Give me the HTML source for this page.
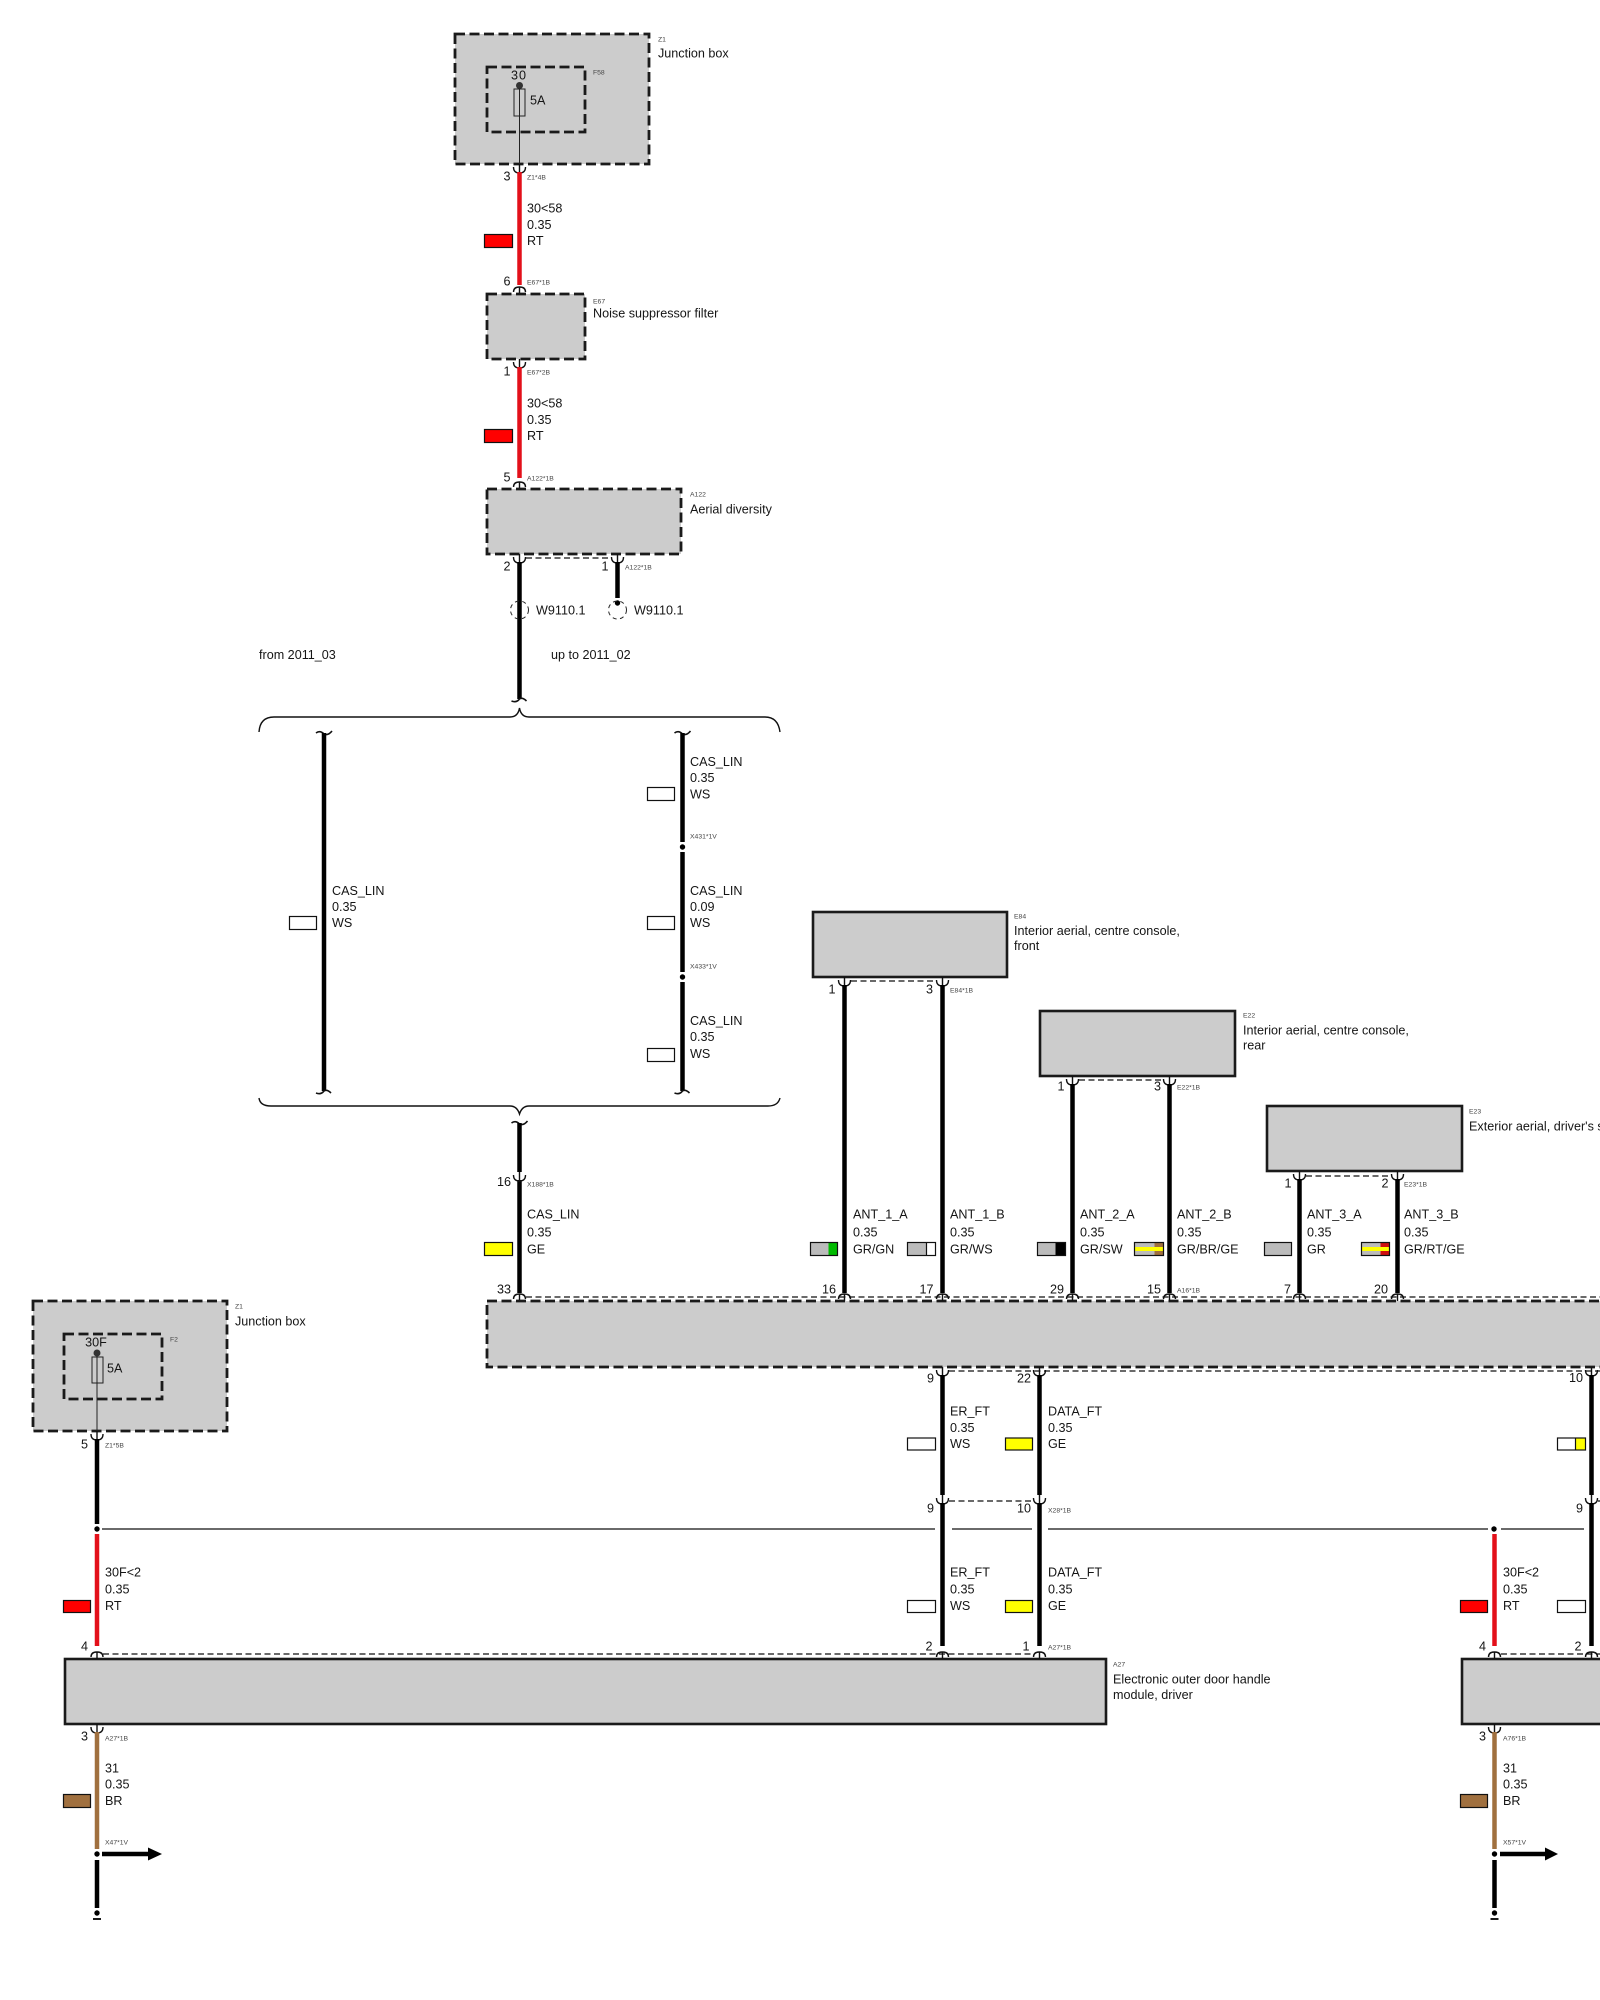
<!DOCTYPE html>
<html><head><meta charset="utf-8"><style>
html,body{margin:0;padding:0;background:#fff;width:1600px;height:2000px;overflow:hidden}
svg{display:block}
text{font-family:"Liberation Sans",sans-serif;font-size:12.6px;fill:#151515}
.s{font-size:6.8px;fill:#444}
.e{text-anchor:end}
.m{text-anchor:middle}
.bd{fill:#ccc;stroke:#1a1a1a;stroke-width:2.8;stroke-dasharray:10 4.5}
.bs{fill:#ccc;stroke:#1a1a1a;stroke-width:2.6}
.in{fill:none;stroke:#1a1a1a;stroke-width:2.8;stroke-dasharray:10 4.5}
.k{stroke:#000;stroke-width:4.5;fill:none}
.r{stroke:#e3101a;stroke-width:4.5;fill:none}
.b{stroke:#a0703f;stroke-width:4.5;fill:none}
.t{stroke:#111;stroke-width:1.4;fill:none}
.d{stroke:#111;stroke-width:1.3;fill:none;stroke-dasharray:6 3.5}
.c{stroke:#111;stroke-width:1.4;fill:none}
.sw{stroke:#111;stroke-width:1.2}
</style></head><body>
<svg width="1600" height="2000" viewBox="0 0 1600 2000" xmlns="http://www.w3.org/2000/svg">
<defs>
<path id="cd" class="c" d="M0,0V9M-6,3Q-6,9 0,9Q6,9 6,3"/>
<path id="cu" class="c" d="M0,0V-7M-6,-2Q-6,-7 0,-7Q6,-7 6,-2"/>
<path id="tt" class="c" d="M-8,0Q-4,-3 0,1Q4,3 8,-2" style="stroke-width:1.6"/>
<path id="tb" class="c" d="M-8,1Q-3,3 0,-1Q3,-3 7,1" style="stroke-width:1.6"/>
</defs>

<!-- Top Z1 -->
<rect class="bd" x="455" y="34" width="194" height="130"/>
<rect class="in" x="487" y="67" width="98" height="65"/>
<circle cx="519.5" cy="85.5" r="3.5" fill="#333"/>
<rect x="514" y="89" width="11" height="27" fill="#ccc" stroke="#222" stroke-width="1"/>
<path d="M519.5,89V168" stroke="#222" stroke-width="1"/>
<text x="519" y="79.5" class="m" letter-spacing="1">30</text>
<text x="530" y="104.500">5A</text>
<text class="s" x="658" y="41.500">Z1</text>
<text x="658" y="57.500">Junction box</text>
<text class="s" x="593" y="74.500">F58</text>

<use href="#cd" x="519.500" y="164"/>
<path class="r" d="M519.500,172V285"/>
<use href="#cu" x="519.500" y="294"/>
<text class="e" x="510.500" y="180.500">3</text>
<text class="s" x="527" y="179.500">Z1*4B</text>
<text x="527" y="212.500">30&lt;58</text>
<text x="527" y="229">0.35</text>
<text x="527" y="245">RT</text>
<rect class="sw" x="484.500" y="234.500" width="28" height="13" fill="#f00"/>
<text class="e" x="510.500" y="285.500">6</text>
<text class="s" x="527" y="284.500">E67*1B</text>

<!-- E67 -->
<rect class="bd" x="487" y="294" width="98" height="65"/>
<text class="s" x="593" y="303.500">E67</text>
<text x="593" y="317.500">Noise suppressor filter</text>
<use href="#cd" x="519.500" y="359"/>
<path class="r" d="M519.500,367V478"/>
<use href="#cu" x="519.500" y="489"/>
<text class="e" x="510.500" y="375.500">1</text>
<text class="s" x="527" y="374.500">E67*2B</text>
<text x="527" y="407.500">30&lt;58</text>
<text x="527" y="424">0.35</text>
<text x="527" y="440">RT</text>
<rect class="sw" x="484.500" y="429.500" width="28" height="13" fill="#f00"/>
<text class="e" x="510.500" y="481.500">5</text>
<text class="s" x="527" y="480.500">A122*1B</text>

<!-- A122 -->
<rect class="bd" x="487" y="489" width="194" height="65"/>
<text class="s" x="690" y="496.500">A122</text>
<text x="690" y="513.500">Aerial diversity</text>
<path class="d" d="M526,558H611"/>
<use href="#cd" x="519.500" y="554"/>
<use href="#cd" x="617.500" y="554"/>
<path class="k" d="M519.500,562V699"/>
<path class="k" d="M617.500,562V598"/>
<circle cx="617.500" cy="603" r="2.700" fill="#000"/>
<circle cx="519.500" cy="610" r="9" fill="none" stroke="#222" stroke-width="1" stroke-dasharray="4 3.500"/>
<circle cx="617.500" cy="610" r="9" fill="none" stroke="#222" stroke-width="1" stroke-dasharray="4 3.500"/>
<text class="e" x="510.500" y="570.500">2</text>
<text class="e" x="608.500" y="570.500">1</text>
<text class="s" x="625" y="569.500">A122*1B</text>
<text x="536" y="614.500">W9110.1</text>
<text x="634" y="614.500">W9110.1</text>
<text x="259" y="659">from 2011_03</text>
<text x="551" y="659">up to 2011_02</text>
<use href="#tb" x="519.500" y="700"/>

<!-- Braces -->
<path class="t" d="M259,732Q260,717 274,717H510Q518,717 519.500,708Q521,717 529,717H765Q778,717 780,732"/>
<path class="t" d="M259,1098Q260,1106 271,1106H510Q517,1106 519.500,1114Q522,1106 529,1106H768Q778,1106 780,1098"/>

<!-- CAS left -->
<use href="#tt" x="324" y="733"/>
<path class="k" d="M324,733V1091"/>
<use href="#tb" x="324" y="1092"/>
<text x="332" y="895">CAS_LIN</text>
<text x="332" y="911">0.35</text>
<text x="332" y="927">WS</text>
<rect class="sw" x="289.500" y="916.500" width="27" height="13" fill="#fff"/>

<!-- CAS right -->
<use href="#tt" x="682.500" y="733"/>
<path class="k" d="M682.500,733V842M682.500,852V972M682.500,982V1091"/>
<use href="#tb" x="682.500" y="1092"/>
<circle cx="682.500" cy="847" r="2.700" fill="#000"/>
<circle cx="682.500" cy="977" r="2.700" fill="#000"/>
<text x="690" y="766">CAS_LIN</text>
<text x="690" y="782">0.35</text>
<text x="690" y="798.500">WS</text>
<rect class="sw" x="647.500" y="787.500" width="27" height="13" fill="#fff"/>
<text class="s" x="690" y="838.500">X431*1V</text>
<text x="690" y="895">CAS_LIN</text>
<text x="690" y="911">0.09</text>
<text x="690" y="927">WS</text>
<rect class="sw" x="647.500" y="916.500" width="27" height="13" fill="#fff"/>
<text class="s" x="690" y="968.500">X433*1V</text>
<text x="690" y="1025">CAS_LIN</text>
<text x="690" y="1041">0.35</text>
<text x="690" y="1058">WS</text>
<rect class="sw" x="647.500" y="1048.500" width="27" height="13" fill="#fff"/>

<!-- CAS lower -->
<use href="#tt" x="519.500" y="1123"/>
<path class="k" d="M519.500,1123V1172M519.500,1180V1293"/>
<use href="#cd" x="519.500" y="1172"/>
<text class="e" x="511" y="1186">16</text>
<text class="s" x="527" y="1186.500">X188*1B</text>
<text x="527" y="1218.500">CAS_LIN</text>
<text x="527" y="1236.500">0.35</text>
<text x="527" y="1253.500">GE</text>
<rect class="sw" x="484.500" y="1242.500" width="28" height="13" fill="#ff0"/>
<text class="e" x="511" y="1293.500">33</text>
<use href="#cu" x="519.500" y="1301"/>

<!-- E84 -->
<rect class="bs" x="813" y="912" width="194" height="65"/>
<text class="s" x="1014" y="918.500">E84</text>
<text x="1014" y="935">Interior aerial, centre console,</text>
<text x="1014" y="950">front</text>
<path class="d" d="M851,981H936"/>
<use href="#cd" x="844.500" y="977"/><use href="#cd" x="942.500" y="977"/>
<path class="k" d="M844.500,985V1293M942.500,985V1293"/>
<text class="e" x="835.500" y="993.500">1</text>
<text class="e" x="933" y="993.500">3</text>
<text class="s" x="950" y="992.500">E84*1B</text>

<!-- E22 -->
<rect class="bs" x="1040" y="1011" width="195" height="65"/>
<text class="s" x="1243" y="1017.500">E22</text>
<text x="1243" y="1034.500">Interior aerial, centre console,</text>
<text x="1243" y="1049.500">rear</text>
<path class="d" d="M1079,1080H1163"/>
<use href="#cd" x="1072.500" y="1076"/><use href="#cd" x="1169.500" y="1076"/>
<path class="k" d="M1072.500,1084V1293M1169.500,1084V1293"/>
<text class="e" x="1064.500" y="1090.500">1</text>
<text class="e" x="1161" y="1090.500">3</text>
<text class="s" x="1177" y="1089.500">E22*1B</text>

<!-- E23 -->
<rect class="bs" x="1267" y="1106" width="195" height="65"/>
<text class="s" x="1469" y="1113.500">E23</text>
<text x="1469" y="1130.500">Exterior aerial, driver's side</text>
<path class="d" d="M1306,1176H1391"/>
<use href="#cd" x="1299.500" y="1171"/><use href="#cd" x="1397.500" y="1171"/>
<path class="k" d="M1299.500,1179V1293M1397.500,1179V1293"/>
<text class="e" x="1291.500" y="1187.500">1</text>
<text class="e" x="1388.500" y="1187.500">2</text>
<text class="s" x="1404" y="1186.500">E23*1B</text>

<!-- Wire labels row -->
<text x="853" y="1218.500">ANT_1_A</text><text x="853" y="1236.500">0.35</text><text x="853" y="1253.500">GR/GN</text>
<text x="950" y="1218.500">ANT_1_B</text><text x="950" y="1236.500">0.35</text><text x="950" y="1253.500">GR/WS</text>
<text x="1080" y="1218.500">ANT_2_A</text><text x="1080" y="1236.500">0.35</text><text x="1080" y="1253.500">GR/SW</text>
<text x="1177" y="1218.500">ANT_2_B</text><text x="1177" y="1236.500">0.35</text><text x="1177" y="1253.500">GR/BR/GE</text>
<text x="1307" y="1218.500">ANT_3_A</text><text x="1307" y="1236.500">0.35</text><text x="1307" y="1253.500">GR</text>
<text x="1404" y="1218.500">ANT_3_B</text><text x="1404" y="1236.500">0.35</text><text x="1404" y="1253.500">GR/RT/GE</text>

<rect x="810.500" y="1242.500" width="18" height="13" fill="#bbb"/><rect x="828.500" y="1242.500" width="9" height="13" fill="#0b0"/><rect class="sw" x="810.500" y="1242.500" width="27" height="13" fill="none"/>
<rect x="907.500" y="1242.500" width="19" height="13" fill="#bbb"/><rect x="926.500" y="1242.500" width="9" height="13" fill="#fff"/><path class="sw" d="M926.500,1242.500v13"/><rect class="sw" x="907.500" y="1242.500" width="28" height="13" fill="none"/>
<rect x="1037.500" y="1242.500" width="18" height="13" fill="#bbb"/><rect x="1055.500" y="1242.500" width="10" height="13" fill="#000"/><rect class="sw" x="1037.500" y="1242.500" width="28" height="13" fill="none"/>
<rect x="1134.500" y="1242.500" width="20" height="13" fill="#bbb"/><rect x="1154.500" y="1242.500" width="9" height="13" fill="#a0703f"/><rect x="1134.500" y="1247" width="29" height="4" fill="#ff0"/><rect class="sw" x="1134.500" y="1242.500" width="29" height="13" fill="none"/>
<rect class="sw" x="1264.500" y="1242.500" width="27" height="13" fill="#bbb"/>
<rect x="1361.500" y="1242.500" width="19" height="13" fill="#bbb"/><rect x="1380.500" y="1242.500" width="9" height="13" fill="#d01010"/><rect x="1361.500" y="1247" width="28" height="4" fill="#ff0"/><rect class="sw" x="1361.500" y="1242.500" width="28" height="13" fill="none" stroke="#a33"/>

<!-- A16 top -->
<path class="d" d="M526,1297H1600"/>
<rect class="bd" x="487" y="1301" width="1130" height="66"/>
<use href="#cu" x="844.500" y="1301"/><use href="#cu" x="942.500" y="1301"/><use href="#cu" x="1072.500" y="1301"/><use href="#cu" x="1169.500" y="1301"/><use href="#cu" x="1299.500" y="1301"/><use href="#cu" x="1397.500" y="1301"/>
<text class="e" x="836" y="1293.500">16</text>
<text class="e" x="933.500" y="1293.500">17</text>
<text class="e" x="1064" y="1293.500">29</text>
<text class="e" x="1161" y="1293.500">15</text>
<text class="e" x="1291" y="1293.500">7</text>
<text class="e" x="1388" y="1293.500">20</text>
<text class="s" x="1177" y="1292.500">A16*1B</text>

<!-- A16 bottom -->
<path class="d" d="M949,1371H1600"/>
<use href="#cd" x="942.500" y="1367"/><use href="#cd" x="1039.500" y="1367"/><use href="#cd" x="1591.500" y="1367"/>
<path class="k" d="M942.500,1375V1495M1039.500,1375V1495M1591.500,1375V1495"/>
<text class="e" x="934" y="1382.500">9</text>
<text class="e" x="1031" y="1382.500">22</text>
<text class="e" x="1583" y="1382">10</text>
<text x="950" y="1415.500">ER_FT</text><text x="950" y="1432">0.35</text><text x="950" y="1448">WS</text>
<rect class="sw" x="907.500" y="1438" width="28" height="12" fill="#fff"/>
<text x="1048" y="1415.500">DATA_FT</text><text x="1048" y="1432">0.35</text><text x="1048" y="1448">GE</text>
<rect class="sw" x="1005.500" y="1438" width="27" height="12" fill="#ff0"/>
<rect x="1557.500" y="1438" width="18" height="12" fill="#fff"/><rect x="1575.500" y="1438" width="10" height="12" fill="#ff0"/><path class="sw" d="M1575.500,1438v12"/><rect class="sw" x="1557.500" y="1438" width="28" height="12" fill="none"/>

<!-- X28 -->
<path class="d" d="M949,1501H1033"/>
<path class="d" d="M1598,1501H1600"/>
<use href="#cd" x="942.500" y="1495"/><use href="#cd" x="1039.500" y="1495"/><use href="#cd" x="1591.500" y="1495"/>
<path class="k" d="M942.500,1503V1646M1039.500,1503V1646M1591.500,1503V1646"/>
<text class="e" x="934" y="1512.500">9</text>
<text class="e" x="1031" y="1512.500">10</text>
<text class="e" x="1583" y="1512.500">9</text>
<text class="s" x="1048" y="1512.500">X28*1B</text>
<path d="M102,1529H935M952,1529H1032M1048,1529H1488M1501,1529H1584" stroke="#111" stroke-width="1.300"/>
<text x="950" y="1576.500">ER_FT</text><text x="950" y="1593.500">0.35</text><text x="950" y="1610">WS</text>
<rect class="sw" x="907.500" y="1600.500" width="28" height="12" fill="#fff"/>
<text x="1048" y="1576.500">DATA_FT</text><text x="1048" y="1593.500">0.35</text><text x="1048" y="1610">GE</text>
<rect class="sw" x="1005.500" y="1600.500" width="27" height="12" fill="#ff0"/>
<text class="e" x="932.500" y="1650.500">2</text>
<text class="e" x="1029.500" y="1650.500">1</text>
<text class="s" x="1048" y="1649.500">A27*1B</text>

<!-- Lower Z1 -->
<rect class="bd" x="33" y="1301" width="194" height="130"/>
<rect class="in" x="64" y="1334" width="98" height="65"/>
<circle cx="97" cy="1353" r="3.500" fill="#333"/>
<rect x="92" y="1357" width="11" height="26" fill="#ccc" stroke="#222" stroke-width="1"/>
<path d="M97,1357V1436" stroke="#222" stroke-width="1"/>
<text x="96" y="1346.500" class="m">30F</text>
<text x="107" y="1372.500">5A</text>
<text class="s" x="235" y="1308.500">Z1</text>
<text x="235" y="1325.500">Junction box</text>
<text class="s" x="170" y="1341.500">F2</text>
<use href="#cd" x="97" y="1431"/>
<path class="k" d="M97,1439V1524"/>
<circle cx="97" cy="1529" r="2.700" fill="#000"/>
<text class="e" x="88" y="1448.500">5</text>
<text class="s" x="105" y="1447.500">Z1*5B</text>
<path class="r" d="M97,1534V1646"/>
<text x="105" y="1576.500">30F&lt;2</text><text x="105" y="1593.500">0.35</text><text x="105" y="1610">RT</text>
<rect class="sw" x="63.500" y="1600.500" width="27" height="12" fill="#f00"/>
<text class="e" x="88" y="1650.500">4</text>

<!-- A27 -->
<path class="d" d="M103,1654H1034"/>
<rect class="bs" x="65" y="1659" width="1041" height="65"/>
<use href="#cu" x="97" y="1659"/><use href="#cu" x="942.500" y="1659"/><use href="#cu" x="1039.500" y="1659"/>
<text class="s" x="1113" y="1666.500">A27</text>
<text x="1113" y="1683.500">Electronic outer door handle</text>
<text x="1113" y="1699">module, driver</text>
<use href="#cd" x="97" y="1724"/>
<path class="b" d="M97,1732V1849"/>
<text class="e" x="88" y="1740.500">3</text>
<text class="s" x="105" y="1740.500">A27*1B</text>
<text x="105" y="1772.500">31</text><text x="105" y="1788.500">0.35</text><text x="105" y="1805">BR</text>
<rect class="sw" x="63.500" y="1794.500" width="27" height="13" fill="#a0703f"/>
<text class="s" x="105" y="1844.500">X47*1V</text>
<circle cx="97" cy="1854" r="2.700" fill="#000"/>
<path d="M102,1854H149" stroke="#000" stroke-width="4.500"/>
<path d="M148,1847.500L162,1854L148,1860.500Z" fill="#000"/>
<path class="k" d="M97,1860V1908"/>
<circle cx="97" cy="1913" r="2.700" fill="#000"/>
<path d="M93,1919H101" stroke="#000" stroke-width="1.800"/>

<!-- Right column -->
<circle cx="1494" cy="1529" r="2.700" fill="#000"/>
<path class="r" d="M1494.500,1534V1646"/>
<text x="1503" y="1576.500">30F&lt;2</text><text x="1503" y="1593.500">0.35</text><text x="1503" y="1610">RT</text>
<rect class="sw" x="1460.500" y="1600.500" width="27" height="12" fill="#f00"/>
<rect class="sw" x="1557.500" y="1600.500" width="28" height="12" fill="#fff"/>
<text class="e" x="1486" y="1650.500">4</text>
<text class="e" x="1581.500" y="1650.500">2</text>
<path class="d" d="M1501,1654H1600"/>
<rect class="bs" x="1462" y="1659" width="160" height="65"/>
<use href="#cu" x="1494.500" y="1659"/><use href="#cu" x="1591.500" y="1659"/>
<use href="#cd" x="1494.500" y="1724"/>
<path class="b" d="M1494.500,1732V1849"/>
<text class="e" x="1486" y="1740.500">3</text>
<text class="s" x="1503" y="1740.500">A76*1B</text>
<text x="1503" y="1772.500">31</text><text x="1503" y="1788.500">0.35</text><text x="1503" y="1805">BR</text>
<rect class="sw" x="1460.500" y="1794.500" width="27" height="13" fill="#a0703f"/>
<text class="s" x="1503" y="1844.500">X57*1V</text>
<circle cx="1494.500" cy="1854" r="2.700" fill="#000"/>
<path d="M1500,1854H1546" stroke="#000" stroke-width="4.500"/>
<path d="M1545,1847.500L1558,1854L1545,1860.500Z" fill="#000"/>
<path class="k" d="M1494.500,1860V1908"/>
<circle cx="1494.500" cy="1913" r="2.700" fill="#000"/>
<path d="M1490.500,1919H1498.500" stroke="#000" stroke-width="1.800"/>
</svg>
</body></html>
